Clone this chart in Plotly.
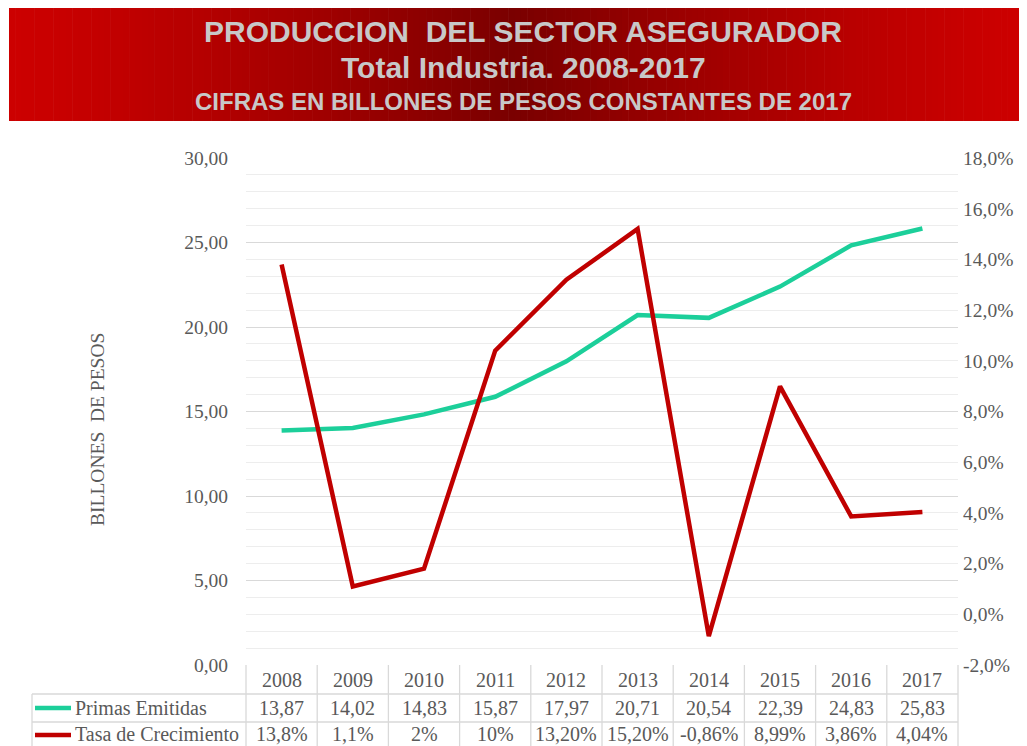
import plotly.graph_objects as go

years = [2008, 2009, 2010, 2011, 2012, 2013, 2014, 2015, 2016, 2017]
primas = [13.87, 14.02, 14.83, 15.87, 17.97, 20.71, 20.54, 22.39, 24.83, 25.83]
tasa = [13.8, 1.1, 1.8, 10.4, 13.2, 15.2, -0.86, 8.99, 3.86, 4.04]
primas_labels = ["13,87", "14,02", "14,83", "15,87", "17,97", "20,71", "20,54", "22,39", "24,83", "25,83"]
tasa_labels = ["13,8%", "1,1%", "2%", "10%", "13,20%", "15,20%", "-0,86%", "8,99%", "3,86%", "4,04%"]
right_ticks = [-2, 0, 2, 4, 6, 8, 10, 12, 14, 16, 18]
series_names = ["Primas Emitidas", "Tasa de Crecimiento"]
title_lines = ["PRODUCCION  DEL SECTOR ASEGURADOR", "Total Industria. 2008-2017",
               "CIFRAS EN BILLONES DE PESOS CONSTANTES DE 2017"]

OFF = 8  # page body margin
W, H = 1027 - OFF, 746 - OFF
L, R, T, B = 246, 958, 158, 665
GREEN = "#1ccf9a"
RED = "#c00000"
GRID = "#d9d9d9"
TXT = "#595959"
SERIF = "Liberation Serif, Times New Roman, serif"
SANS = "Liberation Sans, Arial, sans-serif"


def px(xp):
    return (xp - L) / (R - L)


def py(yp):
    return (B - yp) / (B - T)


fig = go.Figure()
fig.add_trace(go.Scatter(x=years, y=primas, mode="lines", name=series_names[0],
                         line=dict(color=GREEN, width=4.5), yaxis="y"))
fig.add_trace(go.Scatter(x=years, y=tasa, mode="lines", name=series_names[1],
                         line=dict(color=RED, width=4.5), yaxis="y2"))

shapes = []


def lerp(c1, c2, t):
    return tuple(int(round(a + (b - a) * t)) for a, b in zip(c1, c2))


edge = (0xcc, 0x00, 0x00)
mid = (0x7a, 0x00, 0x00)
bx0, bx1, by0, by1 = 9, 1020, 6, 121
n = 160
cx = 514
for i in range(n):
    x0 = bx0 + (bx1 - bx0) * i / n
    x1 = bx0 + (bx1 - bx0) * (i + 1) / n + 0.6
    xc = (x0 + x1) / 2
    if xc < cx:
        t = (xc - bx0) / (cx - bx0)
    else:
        t = (bx1 - xc) / (bx1 - cx)
    c = lerp(edge, mid, t ** 1.3)
    shapes.append(dict(type="rect", xref="paper", yref="paper", x0=px(x0), x1=px(x1),
                       y0=py(by1), y1=py(by0), fillcolor="rgb(%d,%d,%d)" % c,
                       line=dict(width=0), layer="below"))

# table lines
tbl_left = 32
for yl in (694, 722):
    shapes.append(dict(type="line", xref="paper", yref="paper", x0=px(tbl_left), x1=1,
                       y0=py(yl), y1=py(yl), line=dict(color=GRID, width=1.3)))
shapes.append(dict(type="line", xref="paper", yref="paper", x0=px(tbl_left), x1=px(tbl_left),
                   y0=py(694), y1=py(760), line=dict(color=GRID, width=1.3)))
for i in range(len(years) + 1):
    shapes.append(dict(type="line", xref="paper", yref="paper",
                       x0=i / len(years), x1=i / len(years),
                       y0=py(665), y1=py(760), line=dict(color=GRID, width=1.3)))
# legend keys
for yp, col in [(708, GREEN), (735, RED)]:
    shapes.append(dict(type="line", xref="paper", yref="paper", x0=px(35), x1=px(71),
                       y0=py(yp), y1=py(yp), line=dict(color=col, width=4.5)))

ann = []
for i, tl in enumerate(title_lines):
    ann.append(dict(text="<b>%s</b>" % tl, xref="paper", yref="paper", x=px(523),
                    y=py([31, 68, 101][i]), showarrow=False, xanchor="center", yanchor="middle",
                    font=dict(family=SANS, size=[30, 30, 24][i], color="#c8c8c8")))
cell_font = dict(family=SERIF, size=20, color=TXT)
for yr, a, b in zip(years, primas_labels, tasa_labels):
    for txt, yp in ((str(yr), 680), (a, 708), (b, 734)):
        ann.append(dict(text=txt, xref="x", yref="paper", x=yr, y=py(yp), showarrow=False,
                        xanchor="center", yanchor="middle", font=cell_font))
for name, yp in zip(series_names, [708, 734]):
    ann.append(dict(text=name, xref="paper", yref="paper", x=px(73), y=py(yp), showarrow=False,
                    xanchor="left", yanchor="middle", font=cell_font))
ann.append(dict(text="BILLONES  DE PESOS", xref="paper", yref="paper", x=px(97), y=py(430),
                textangle=-90, showarrow=False, xanchor="center", yanchor="middle",
                font=dict(family=SERIF, size=19.5, color=TXT)))

fig.update_layout(
    width=W, height=H,
    margin=dict(l=L - OFF, r=W - (R - OFF), t=T - OFF, b=H - (B - OFF), pad=0),
    paper_bgcolor="white", plot_bgcolor="white",
    separators=",.",
    showlegend=False,
    xaxis=dict(range=[years[0] - 0.5, years[-1] + 0.5], showticklabels=False, showgrid=False,
               zeroline=False, showline=False, ticks=""),
    yaxis=dict(range=[0, 30], dtick=5, tickformat=".2f", showgrid=True, gridcolor=GRID,
               gridwidth=1.3, zeroline=False, showline=False, ticks="", ticklabelstandoff=17,
               tickfont=dict(family=SERIF, size=19.5, color=TXT),
               minor=dict(dtick=1, showgrid=True, gridcolor="#ededed", gridwidth=1.3)),
    yaxis2=dict(range=[-2, 18], tickmode="array", tickvals=right_ticks,
                ticktext=[("%.1f%%" % v).replace(".", ",") for v in right_ticks],
                overlaying="y", side="right", showgrid=False, zeroline=False, showline=False,
                ticks="", ticklabelstandoff=4, tickfont=dict(family=SERIF, size=19.5, color=TXT)),
    shapes=shapes,
    annotations=ann,
)
fig.write_html("out.html")
